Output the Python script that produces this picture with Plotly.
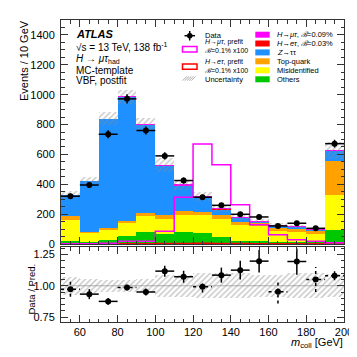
import numpy as np
import plotly.graph_objects as go

# m_coll bins [GeV]
bin_lo = [50, 60, 70, 80, 90, 100, 110, 120, 130, 140, 150, 160, 170, 180, 190]
bin_hi = [60, 70, 80, 90, 100, 110, 120, 130, 140, 150, 160, 170, 180, 190, 200]

data = [320, 395, 735, 972, 760, 590, 425, 313, 259, 199, 181, 121, 139, 105, 672]

# postfit stack (bottom -> top)
others = [18, 13, 25, 56, 83, 67, 80, 71, 45, 20, 18, 12, 11, 11, 96]
misid = [145, 61, 71, 85, 109, 103, 116, 121, 125, 110, 100, 73, 67, 56, 230]
topq = [22, 9, 13, 11, 13, 22, 25, 25, 25, 20, 23, 20, 22, 18, 228]
ztt = [145, 342, 731, 833, 595, 335, 172, 93, 39, 25, 10, 21, 16, 15, 70]
het_post = [0, 0, 0, 0, 0.1, 0.2, 0.3, 0.5, 0.4, 0.3, 0.2, 0.1, 0.1, 0, 0]
hmt_post = [0, 0, 0, 0.2, 0.2, 0.8, 2.8, 6.0, 4.8, 2.4, 1.2, 0.6, 0.3, 0.2, 0.1]
unc_rel = [0.07, 0.055, 0.05, 0.047, 0.053, 0.087, 0.09, 0.1, 0.1, 0.1, 0.09, 0.087, 0.1, 0.1, 0.093]

# prefit signals x100
hmt_prefit = [1, 2, 5, 18, 18, 85, 313, 670, 531, 263, 129, 62, 29, 18, 8]
het_prefit = [0, 0, 1, 2, 2, 3, 4, 5, 4, 3, 2, 1, 1, 1, 0]

ratio = [0.973, 0.933, 0.875, 0.987, 0.95, 1.117, 1.072, 0.992, 1.085, 1.125, 1.197, 0.952, 1.194, 1.05, 1.08]
ratio_err = [0.06, 0.04, 0.027, 0.025, 0.028, 0.044, 0.048, 0.045, 0.06, 0.075, 0.09, 0.093, 0.105, 0.1, 0.036]
ratio_dashed = [1, 0, 0, 1, 0, 0, 0, 1, 0, 0, 0, 1, 0, 1, 1]

C_GREEN = "#00c800"
C_YELLOW = "#ffff00"
C_ORANGE = "#ffa200"
C_BLUE = "#1e90ff"
C_RED = "#ff0000"
C_MAG = "#ff00ff"
FONT = "Liberation Sans, Arial, sans-serif"
HATCH = dict(shape="/", size=4, solidity=0.35, fillmode="overlay",
             fgcolor="#8c8c8c", bgcolor="rgba(255,255,255,0)")

centers = [(a + b) / 2 for a, b in zip(bin_lo, bin_hi)]
widths = [b - a for a, b in zip(bin_lo, bin_hi)]

fig = go.Figure()

base = np.zeros(len(centers))
for vals, col in [(others, C_GREEN), (misid, C_YELLOW), (topq, C_ORANGE),
                  (ztt, C_BLUE), (het_post, C_RED), (hmt_post, C_MAG)]:
    fig.add_trace(go.Bar(x=centers, y=vals, base=base.copy(), width=widths,
                         marker=dict(color=col, line=dict(width=0)), opacity=1,
                         xaxis="x", yaxis="y"))
    base = base + np.array(vals)
total = base
unc = total * np.array(unc_rel)

# uncertainty band
fig.add_trace(go.Bar(x=centers, y=2 * unc, base=total - unc, width=widths,
                     marker=dict(color="rgba(255,255,255,0)", line=dict(width=0), pattern=HATCH),
                     xaxis="x", yaxis="y"))

# prefit signal outlines
for vals, col in [(het_prefit, C_RED), (hmt_prefit, C_MAG)]:
    fig.add_trace(go.Scatter(x=bin_lo + [bin_hi[-1]], y=vals + [vals[-1]],
                             mode="lines", line=dict(color=col, width=1.5, shape="hv"),
                             xaxis="x", yaxis="y"))

# data
fig.add_trace(go.Scatter(x=centers, y=data, mode="markers",
                         marker=dict(color="black", size=6),
                         error_y=dict(type="data", array=np.sqrt(data), color="black", thickness=1.5, width=0),
                         error_x=dict(type="data", array=[w / 2 for w in widths], color="black", thickness=1.5, width=0),
                         xaxis="x", yaxis="y"))

# ratio band
r_unc = np.array(unc_rel)
fig.add_trace(go.Bar(x=centers, y=2 * r_unc, base=1 - r_unc, width=widths,
                     marker=dict(color="rgba(255,255,255,0)", line=dict(width=0), pattern=HATCH),
                     xaxis="x2", yaxis="y2"))

# ratio points, error bars drawn as segments (solid / dotted)
for dashed, dash in [(0, "solid"), (1, "dot")]:
    xs, ys = [], []
    for c, w, r, e, d in zip(centers, widths, ratio, ratio_err, ratio_dashed):
        if d != dashed:
            continue
        xs += [c - w / 2, c + w / 2, None, c, c, None]
        ys += [r, r, None, r - e, r + e, None]
    fig.add_trace(go.Scatter(x=xs, y=ys, mode="lines", line=dict(color="black", width=1.5, dash=dash),
                             xaxis="x2", yaxis="y2"))
fig.add_trace(go.Scatter(x=centers, y=ratio, mode="markers", marker=dict(color="black", size=6),
                         xaxis="x2", yaxis="y2"))

fig.add_shape(type="line", xref="x2 domain", yref="y2", x0=0, x1=1, y0=1, y1=1,
              line=dict(color="#b0b0b0", width=1), layer="below")

# pixel -> paper helpers
L, R, T, B = 53, 336, 12, 314


def fx(x):
    return (x - L) / (R - L)


def fy(y):
    return (B - y) / (B - T)


def text(x, y, s, size=10, anchor="left", **kw):
    fig.add_annotation(x=fx(x), y=fy(y), xref="paper", yref="paper", text=s, showarrow=False,
                       xanchor=anchor, yanchor="middle", align="left", borderpad=0,
                       font=dict(family=FONT, size=size, color="black"), **kw)


def box(x0, y0, x1, y1, fill=None, line=None):
    fig.add_shape(type="rect", xref="paper", yref="paper", x0=fx(x0), x1=fx(x1), y0=fy(y1), y1=fy(y0),
                  fillcolor=fill if fill else "rgba(0,0,0,0)",
                  line=dict(color=line if line else "rgba(0,0,0,0)", width=1.5 if line else 0))


# ATLAS label
text(66.5, 26, "<b><i>ATLAS</i></b>", size=11)
text(66.5, 39, "√s = 13 TeV, 138 fb<sup>-1</sup>", size=10)
text(66.5, 51, "<i>H</i> → <i>μτ</i><sub>had</sub>", size=10)
text(66.5, 62.3, "MC-template", size=10)
text(66.5, 72.5, "VBF, postfit", size=10)

# legend column 1
LS = 7.5
fig.add_shape(type="circle", xref="paper", yref="paper", x0=fx(179), x1=fx(184.5), y0=fy(30.5), y1=fy(25),
              fillcolor="black", line=dict(width=0))
fig.add_shape(type="line", xref="paper", yref="paper", x0=fx(176.5), x1=fx(187), y0=fy(27.7), y1=fy(27.7),
              line=dict(color="black", width=1.5))
fig.add_shape(type="line", xref="paper", yref="paper", x0=fx(181.7), x1=fx(181.7), y0=fy(23), y1=fy(32.5),
              line=dict(color="black", width=1.5))
text(196, 27, "Data", size=LS)
box(174.5, 38.5, 189, 44, line=C_MAG)
text(196, 38.5, "<i>H</i>→<i>μτ</i>, prefit<br><i>ℬ</i>=0.1% x100", size=7)
box(174.5, 56, 189, 61.3, line=C_RED)
text(196, 57.5, "<i>H</i>→<i>eτ</i>, prefit<br><i>ℬ</i>=0.1% x100", size=7)
hx0, hy0, hx1, hy1 = 174.5, 68.3, 189, 72.7
path = ""
s = hx0
while s + (hy1 - hy0) <= hx1:
    path += f"M{fx(s)},{fy(hy1)} L{fx(s + hy1 - hy0)},{fy(hy0)} "
    s += 2.2
fig.add_shape(type="path", xref="paper", yref="paper", path=path, line=dict(color="#999999", width=0.8))
text(196, 71.5, "Uncertainty", size=LS)

# legend column 2
rows = [(26.7, C_MAG, "<i>H</i>→<i>μτ</i>, <i>ℬ</i>=0.09%"),
        (35.5, C_RED, "<i>H</i>→<i>eτ</i>, <i>ℬ</i>=0.03%"),
        (44.4, C_BLUE, "<i>Z</i>→ττ"),
        (53.3, C_ORANGE, "Top-quark"),
        (62.3, C_YELLOW, "Misidentified"),
        (71.3, C_GREEN, "Others")]
for y, col, lab in rows:
    box(247.3, y - 3, 261.7, y + 3, fill=col)
    text(268, y, lab, size=LS)

# axis titles
fig.add_annotation(x=fx(16), y=fy(52), xref="paper", yref="paper", text="Events / 10 GeV", textangle=-90,
                   showarrow=False, xanchor="center", yanchor="middle", font=dict(family=FONT, size=11, color="black"))
fig.add_annotation(x=fx(22.5), y=fy(281), xref="paper", yref="paper", text="Data / Pred.", textangle=-90,
                   showarrow=False, xanchor="center", yanchor="middle", font=dict(family=FONT, size=9.5, color="black"))
text(336, 335, "<i>m</i><sub>coll</sub> [GeV]", size=11, anchor="right")

axis_common = dict(showline=True, linecolor="#333333", linewidth=1, mirror="ticks", ticks="inside",
                   tickcolor="#333333", showgrid=False, zeroline=False,
                   tickfont=dict(family=FONT, size=11, color="black"))

fig.update_layout(
    width=357, height=357,
    margin=dict(l=L, r=357 - R, t=T, b=357 - B),
    paper_bgcolor="white", plot_bgcolor="white",
    showlegend=False, barmode="overlay", bargap=0,
    xaxis=dict(domain=[0, 1], anchor="y", range=[50, 200], dtick=20, tick0=0, ticklen=7,
               showticklabels=False, minor=dict(dtick=5, ticklen=3.5, ticks="inside", tickcolor="#333333"),
               **axis_common),
    yaxis=dict(domain=[fy(236), 1], anchor="x", range=[0, 1500], dtick=200, ticklen=7,
               minor=dict(dtick=50, ticklen=3.5, ticks="inside", tickcolor="#333333"),
               ticklabelstandoff=3, **axis_common),
    xaxis2=dict(domain=[0, 1], anchor="y2", range=[50, 200], dtick=20, tick0=0, ticklen=7,
                minor=dict(dtick=5, ticklen=3.5, ticks="inside", tickcolor="#333333"),
                **axis_common),
    yaxis2=dict(domain=[0, fy(239)], anchor="x2", range=[0.71, 1.31], tickvals=[0.75, 1.0, 1.25],
                ticktext=["0.75", "1.00", "1.25"], ticklen=7,
                minor=dict(dtick=0.05, ticklen=3.5, ticks="inside", tickcolor="#333333"),
                ticklabelstandoff=3, **axis_common),
)

fig.write_html("out.html")
